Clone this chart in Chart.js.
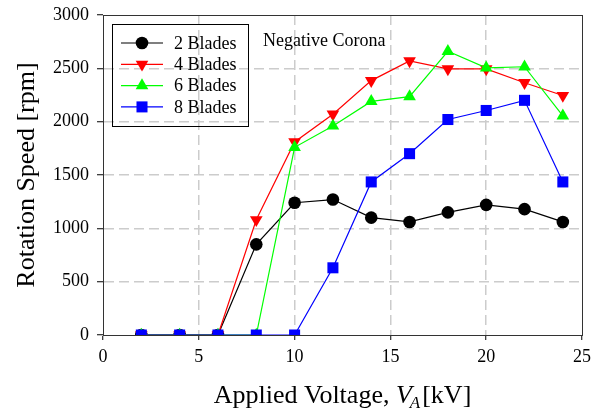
<!DOCTYPE html>
<html>
<head>
<meta charset="utf-8">
<script src="https://cdn.jsdelivr.net/npm/chart.js@4.4.1/dist/chart.umd.min.js"></script>
<style>
  html, body { margin: 0; padding: 0; background: #fff; }
  #wrap { width: 600px; height: 411px; }
</style>
</head>
<body>
<div id="wrap"><canvas id="grafico" width="600" height="411"></canvas></div>
<script>
// tensão aplicada (kV)
const voltagem = [2, 4, 6, 8, 10, 12, 14, 16, 18, 20, 22, 24];

// velocidade de rotação (rpm) para cada número de pás
const pas2 = [0, 0, 0, 850, 1240, 1270, 1100, 1060, 1150, 1220, 1180, 1060];
const pas4 = [0, 0, 0, 1080, 1810, 2070, 2385, 2570, 2495, 2495, 2365, 2245];
const pas6 = [0, 0, 0, 0, 1760, 1960, 2190, 2235, 2660, 2505, 2515, 2055];
const pas8 = [0, 0, 0, 0, 0, 630, 1435, 1700, 2020, 2105, 2200, 1435];

const xTicks = [0, 5, 10, 15, 20, 25];
const yTicks = [0, 500, 1000, 1500, 2000, 2500, 3000];

const FONTE = "'Liberation Serif', 'Times New Roman', serif";

function pontos(valores) {
    return voltagem.map((v, i) => ({ x: v, y: valores[i] }));
}

function serie(nome, valores, cor, estilo, raio, rot, ordem) {
    return {
        label: nome,
        data: pontos(valores),
        borderColor: cor,
        backgroundColor: cor,
        borderWidth: 1.2,
        pointStyle: estilo,
        pointRadius: raio,
        pointRotation: rot,
        pointBorderWidth: 0,
        pointHoverRadius: raio,
        order: ordem
    };
}

// legenda desenhada à mão dentro do gráfico (igual ao original)
const legendaPlugin = {
    id: 'legendaPlugin',
    afterDraw(chart) {
        const ctx = chart.ctx;
        ctx.save();
        ctx.strokeStyle = '#000';
        ctx.lineWidth = 1;
        ctx.strokeRect(112.5, 24.5, 136, 102);
        ctx.font = '18px ' + FONTE;
        ctx.textBaseline = 'middle';
        ctx.fillStyle = '#000';
        chart.data.datasets.forEach((ds, i) => {
            const y = 43 + i * 21.3;
            ctx.strokeStyle = ds.borderColor;
            ctx.lineWidth = 1.2;
            ctx.beginPath();
            ctx.moveTo(121, y);
            ctx.lineTo(163, y);
            ctx.stroke();
            ctx.fillStyle = ds.backgroundColor;
            Chart.helpers.drawPoint(ctx, {
                pointStyle: ds.pointStyle,
                radius: ds.pointRadius,
                rotation: ds.pointRotation,
                borderWidth: 0
            }, 142, y);
            ctx.fillStyle = '#000';
            ctx.fillText(ds.label, 174, y + 1);
        });

        // anotação
        ctx.font = '18px ' + FONTE;
        ctx.fillText('Negative Corona', 263, 41);

        // título do eixo X com V itálico e subscrito A
        const a = chart.chartArea;
        const cx = (a.left + a.right) / 2;
        const yb = 403;
        ctx.textBaseline = 'alphabetic';
        const p1 = 'Applied Voltage, ';
        const f1 = '26px ' + FONTE;
        const f2 = 'italic 26px ' + FONTE;
        const f3 = 'italic 17px ' + FONTE;
        ctx.font = f1; const w1 = ctx.measureText(p1).width;
        const w4 = ctx.measureText('[kV]').width;
        ctx.font = f2; const w2 = ctx.measureText('V').width;
        ctx.font = f3; const w3 = ctx.measureText('A').width;
        let x = cx - (w1 + w2 + w3 + w4) / 2;
        ctx.font = f1; ctx.fillText(p1, x, yb); x += w1;
        ctx.font = f2; ctx.fillText('V', x, yb); x += w2;
        ctx.font = f3; ctx.fillText('A', x - 2, yb + 5); x += w3;
        ctx.font = f1; ctx.fillText('[kV]', x, yb);

        // moldura do gráfico
        ctx.strokeStyle = '#333';
        ctx.lineWidth = 1;
        ctx.strokeRect(Math.round(a.left) + 0.5, Math.round(a.top) + 0.5,
            Math.round(a.right - a.left), Math.round(a.bottom - a.top));
        ctx.restore();
    }
};

const meuGrafico = new Chart(document.getElementById('grafico'), {
    type: 'line',
    data: {
        datasets: [
            serie('2 Blades', pas2, '#000000', 'circle', 6.3, 0, 4),
            serie('4 Blades', pas4, '#ff0000', 'triangle', 7.3, 180, 3),
            serie('6 Blades', pas6, '#00ff00', 'triangle', 7.3, 0, 2),
            serie('8 Blades', pas8, '#0000ff', 'rect', 7.8, 0, 1)
        ]
    },
    options: {
        responsive: false,
        animation: false,
        events: [],
        layout: { padding: { top: 15, right: 18, left: 0, bottom: 0 } },
        plugins: {
            legend: { display: false },
            tooltip: { enabled: false }
        },
        scales: {
            x: {
                type: 'linear',
                min: 0, max: 25,
                afterBuildTicks: (s) => { s.ticks = xTicks.map(v => ({ value: v })); },
                afterFit: (s) => { s.height = 76; s.paddingLeft = 0; s.paddingRight = 0; },
                grid: {
                    color: (c) => (c.tick && (c.tick.value === 0 || c.tick.value === 25)) ? 'rgba(0,0,0,0)' : '#cccccc',
                    lineWidth: 1.5,
                    tickColor: '#000',
                    tickLength: 5,
                    tickWidth: 1,
                    tickBorderDash: []
                },
                border: { color: '#000', width: 1, dash: [10, 5] },
                ticks: {
                    color: '#000',
                    font: { family: FONTE, size: 18 },
                    padding: 6,
                    maxRotation: 0,
                    callback: (v) => String(v)
                }
            },
            y: {
                type: 'linear',
                min: 0, max: 3000,
                afterBuildTicks: (s) => { s.ticks = yTicks.map(v => ({ value: v })); },
                afterFit: (s) => { s.width = 103; s.paddingTop = 0; s.paddingBottom = 0; },
                grid: {
                    color: (c) => (c.tick && (c.tick.value === 0 || c.tick.value === 3000)) ? 'rgba(0,0,0,0)' : '#cccccc',
                    lineWidth: 1.5,
                    tickColor: '#000',
                    tickLength: 6,
                    tickWidth: 1,
                    tickBorderDash: []
                },
                border: { color: '#000', width: 1, dash: [10, 5] },
                ticks: {
                    color: '#000',
                    font: { family: FONTE, size: 18 },
                    padding: 8,
                    callback: (v) => String(v)
                },
                title: {
                    display: true,
                    text: 'Rotation Speed [rpm]',
                    color: '#000',
                    font: { family: FONTE, size: 26 },
                    padding: { top: 12, bottom: 0 }
                }
            }
        }
    },
    plugins: [legendaPlugin]
});
</script>
</body>
</html>
